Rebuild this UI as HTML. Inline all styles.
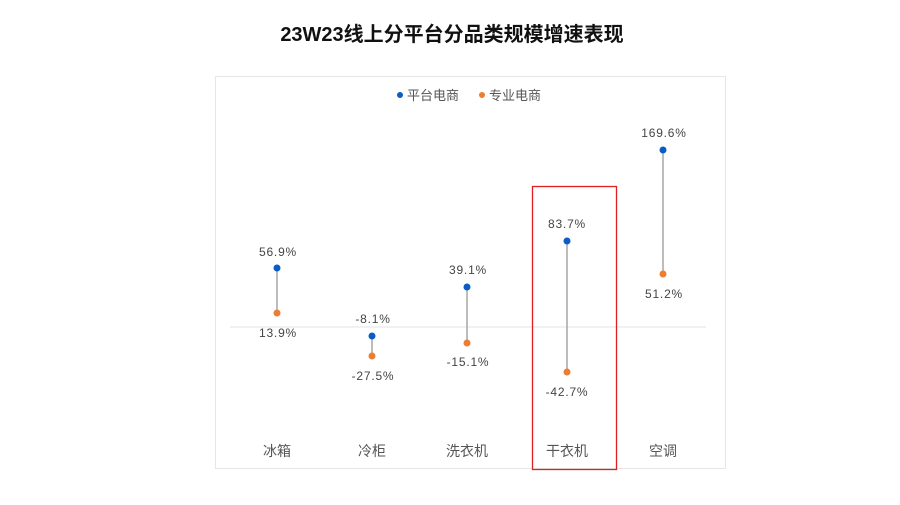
<!DOCTYPE html>
<html><head><meta charset="utf-8"><style>
body{margin:0;background:#fff;width:900px;height:500px;overflow:hidden}
</style></head><body>
<svg width="900" height="500" xmlns="http://www.w3.org/2000/svg" font-family="'Liberation Sans','Noto Sans CJK SC',sans-serif">
<text x="452" y="41" text-anchor="middle" font-size="20" font-weight="bold" fill="#111">23W23线上分平台分品类规模增速表现</text>
<rect x="215.5" y="76.5" width="510" height="392" fill="none" stroke="#e6e6e6"/>
<circle cx="400" cy="95" r="3" fill="#0b5cc5"/>
<text x="407" y="100" font-size="13" fill="#555">平台电商</text>
<circle cx="482" cy="95" r="3" fill="#ed7d31"/>
<text x="489" y="100" font-size="13" fill="#555">专业电商</text>
<line x1="230" y1="327" x2="706" y2="327" stroke="#e3e3e3" stroke-width="1"/>
<g stroke="#a6a6a6" stroke-width="1.5">
<line x1="277" y1="268" x2="277" y2="313"/>
<line x1="372" y1="336" x2="372" y2="356"/>
<line x1="467" y1="287" x2="467" y2="343"/>
<line x1="567" y1="241" x2="567" y2="372"/>
<line x1="663" y1="150" x2="663" y2="274"/>
</g>
<g fill="#0b5cc5">
<circle cx="277" cy="268" r="3.5"/><circle cx="372" cy="336" r="3.5"/><circle cx="467" cy="287" r="3.5"/><circle cx="567" cy="241" r="3.5"/><circle cx="663" cy="150" r="3.5"/>
</g>
<g fill="#ed7d31">
<circle cx="277" cy="313" r="3.5"/><circle cx="372" cy="356" r="3.5"/><circle cx="467" cy="343" r="3.5"/><circle cx="567" cy="372" r="3.5"/><circle cx="663" cy="274" r="3.5"/>
</g>
<g font-size="12" fill="#444" text-anchor="middle" letter-spacing="0.8">
<text x="278" y="256">56.9%</text><text x="278" y="337">13.9%</text>
<text x="373" y="323">-8.1%</text><text x="373" y="380">-27.5%</text>
<text x="468" y="274">39.1%</text><text x="468" y="366">-15.1%</text>
<text x="567" y="228">83.7%</text><text x="567" y="396">-42.7%</text>
<text x="664" y="137">169.6%</text><text x="664" y="298">51.2%</text>
</g>
<g font-size="14" fill="#555" text-anchor="middle">
<text x="277" y="456">冰箱</text><text x="372" y="456">冷柜</text><text x="467" y="456">洗衣机</text><text x="567" y="456">干衣机</text><text x="663" y="456">空调</text>
</g>
<rect x="532.5" y="186.5" width="84" height="283" fill="none" stroke="#e02020" stroke-width="1.3"/>
</svg>
</body></html>
